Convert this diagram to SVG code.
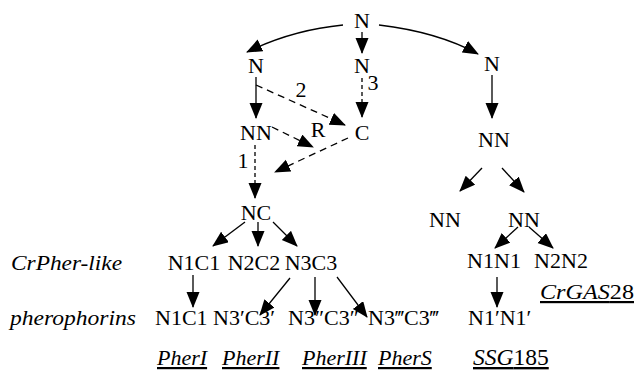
<svg xmlns="http://www.w3.org/2000/svg" width="637" height="371" viewBox="0 0 637 371">
<style>
text{font-family:"Liberation Serif","Times New Roman",Times,serif;font-size:22px;fill:#000}
.m{text-anchor:middle}
.i{font-style:italic}
.u{text-decoration:underline}
.c{fill:none;stroke:#000;stroke-width:1.3}
.d{stroke-dasharray:7,5}
.o{stroke-dasharray:4,3}
</style>
<defs>
<marker id="ah" markerUnits="userSpaceOnUse" markerWidth="17" markerHeight="14" refX="15" refY="6.5" orient="auto">
<path d="M0,0 L16,6.5 L0,13 z" fill="#000"/>
</marker>
</defs>
<g id="connectors">
<path class="c" d="M343,25 Q292,30 247,52" marker-end="url(#ah)"/>
<path class="c" d="M379,25 Q438,32 478,54" marker-end="url(#ah)"/>
<line class="c" x1="362" y1="32" x2="362" y2="53" marker-end="url(#ah)"/>
<line class="c" x1="256" y1="77" x2="256" y2="118" marker-end="url(#ah)"/>
<line class="c d" x1="256" y1="85" x2="345" y2="125" marker-end="url(#ah)"/>
<line class="c o" x1="362" y1="78" x2="362" y2="117" marker-end="url(#ah)"/>
<line class="c d" x1="272" y1="127" x2="313" y2="147" marker-end="url(#ah)"/>
<line class="c d" x1="348" y1="138" x2="275" y2="172" marker-end="url(#ah)"/>
<line class="c o" x1="255" y1="145" x2="255" y2="198" marker-end="url(#ah)"/>
<line class="c" x1="492" y1="75" x2="492" y2="118" marker-end="url(#ah)"/>
<line class="c" x1="482" y1="168" x2="460" y2="191" marker-end="url(#ah)"/>
<line class="c" x1="502" y1="168" x2="524" y2="192" marker-end="url(#ah)"/>
<line class="c" x1="245" y1="222" x2="213" y2="246" marker-end="url(#ah)"/>
<line class="c" x1="258" y1="222" x2="258" y2="246" marker-end="url(#ah)"/>
<line class="c" x1="273" y1="222" x2="297" y2="246" marker-end="url(#ah)"/>
<line class="c" x1="518" y1="227" x2="495" y2="248" marker-end="url(#ah)"/>
<line class="c" x1="529" y1="227" x2="553" y2="248" marker-end="url(#ah)"/>
<line class="c" x1="193" y1="275" x2="193" y2="307" marker-end="url(#ah)"/>
<line class="c" x1="290" y1="278" x2="260" y2="315" marker-end="url(#ah)"/>
<line class="c" x1="315" y1="277" x2="315" y2="315" marker-end="url(#ah)"/>
<line class="c" x1="337" y1="277" x2="367" y2="317" marker-end="url(#ah)"/>
<line class="c" x1="497" y1="277" x2="497" y2="307" marker-end="url(#ah)"/>
<text class="m" x="301" y="97">2</text>
<text class="m" x="373" y="90">3</text>
<text class="m" x="243" y="168">1</text>
</g>
<g id="n-top"><text class="m" x="362" y="28">N</text></g>
<g id="n-left"><text class="m" x="256" y="73">N</text></g>
<g id="n-mid"><text class="m" x="362" y="73">N</text></g>
<g id="n-right"><text class="m" x="492" y="71">N</text></g>
<g id="nn-left"><text class="m" x="256" y="140">NN</text></g>
<g id="r"><text class="m" x="318" y="137">R</text></g>
<g id="c"><text class="m" x="362" y="140">C</text></g>
<g id="nn-right"><text class="m" x="494" y="147">NN</text></g>
<g id="nc"><text class="m" x="256" y="220">NC</text></g>
<g id="nn-a"><text class="m" x="445" y="227">NN</text></g>
<g id="nn-b"><text class="m" x="524" y="227">NN</text></g>
<g id="lbl-crpher"><text class="i" x="11" y="270" textLength="111" lengthAdjust="spacingAndGlyphs">CrPher-like</text></g>
<g id="n1c1"><text class="m" x="194" y="270">N1C1</text></g>
<g id="n2c2"><text class="m" x="254" y="270">N2C2</text></g>
<g id="n3c3"><text class="m" x="311" y="270">N3C3</text></g>
<g id="n1n1"><text class="m" x="494" y="268">N1N1</text></g>
<g id="n2n2"><text class="m" x="561" y="268">N2N2</text></g>
<g id="crgas28"><text class="u" x="540" y="299" textLength="94" lengthAdjust="spacingAndGlyphs"><tspan class="i">CrGAS</tspan>28</text></g>
<g id="lbl-phero"><text class="i" x="10" y="325" textLength="126" lengthAdjust="spacingAndGlyphs">pherophorins</text></g>
<g id="p-n1c1"><text x="155" y="325">N1C1</text></g>
<g id="p-n3c3a"><text x="213" y="325">N3′C3′</text></g>
<g id="p-n3c3b"><text x="288" y="325">N3″C3″</text></g>
<g id="p-n3c3c"><text x="368" y="325">N3‴C3‴</text></g>
<g id="p-n1n1"><text x="468" y="325">N1′N1′</text></g>
<g id="g-pheri"><text class="i u" x="157" y="365">PherI</text></g>
<g id="g-pherii"><text class="i u" x="222" y="365">PherII</text></g>
<g id="g-pheriii"><text class="i u" x="302" y="365">PherIII</text></g>
<g id="g-phers"><text class="i u" x="378" y="365">PherS</text></g>
<g id="g-ssg185"><text class="u" x="473" y="365" style="font-size:23.5px"><tspan class="i">SSG</tspan>185</text></g>
</svg>
